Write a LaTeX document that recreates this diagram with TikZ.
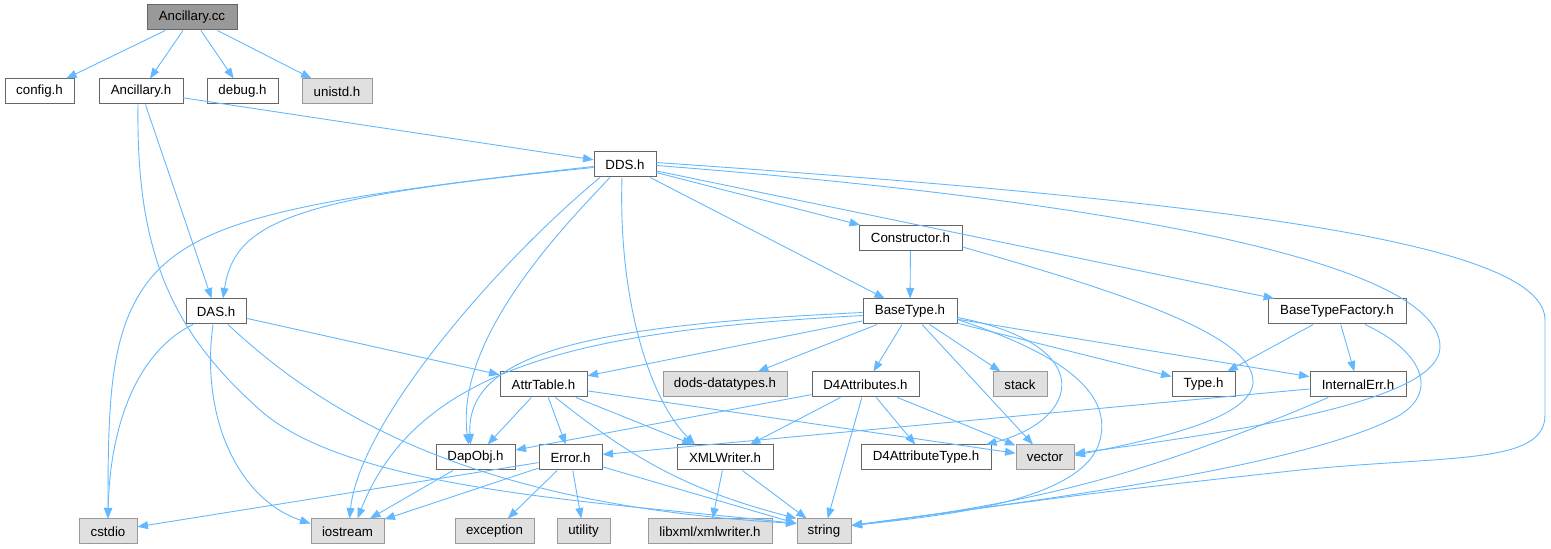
\documentclass[tikz,border=0pt]{standalone}
\usepackage{fontspec}
\setmainfont{Liberation Sans}
\usepackage{xcolor}
\usepackage{tikz}
\usetikzlibrary{arrows.meta}
\definecolor{edgeblue}{HTML}{63B8FF}
\definecolor{boxgray}{HTML}{666666}
\definecolor{sysgray}{HTML}{999999}
\definecolor{sysfill}{HTML}{E0E0E0}
\definecolor{rootfill}{HTML}{999999}

\begin{document}
\begin{tikzpicture}[x=1pt, y=1pt,
		every node/.style={draw=boxgray, fill=white, line width=1pt, inner sep=0pt, minimum height=25pt, font=\fontsize{13.3}{15}\selectfont},
		sys/.style={draw=sysgray, fill=sysfill},
		root/.style={fill=rootfill},
		dep/.style={draw=edgeblue, line width=0.9pt, -{Triangle[length=10.5pt,width=8pt]}}]
			\useasboundingbox (0,0) rectangle (1551,549);
			% Nodes
			\node[root, minimum width=90pt] (cc) at (192,531.5) {Ancillary.cc};
			\node[minimum width=69pt] (config) at (39.5,457.5) {config.h};
			\node[minimum width=84pt] (anch) at (141,457.5) {Ancillary.h};
			\node[minimum width=71pt] (debug) at (242.5,457.5) {debug.h};
			\node[sys, minimum width=70pt] (unistd) at (337,457.5) {unistd.h};
			\node[minimum width=62pt] (dds) at (625,384.5) {DDS.h};
			\node[minimum width=103pt] (cons) at (910.5,311) {Constructor.h};
			\node[minimum width=60pt] (das) at (216,237.5) {DAS.h};
			\node[minimum width=94pt] (bt) at (910,237.5) {BaseType.h};
			\node[minimum width=138pt] (btf) at (1337,237.5) {BaseTypeFactory.h};
			\node[minimum width=87pt] (attr) at (543.5,164.5) {AttrTable.h};
			\node[sys, minimum width=124pt] (dods) at (725,164.5) {dods-datatypes.h};
			\node[minimum width=107pt] (d4a) at (865.5,164.5) {D4Attributes.h};
			\node[sys, minimum width=54pt] (stack) at (1020,164.5) {stack};
			\node[minimum width=63pt] (type) at (1203.5,164.5) {Type.h};
			\node[minimum width=96pt] (ierr) at (1358,164.5) {InternalErr.h};
			\node[minimum width=79pt] (dapobj) at (475.5,91.5) {DapObj.h};
			\node[minimum width=63pt] (err) at (570.5,91.5) {Error.h};
			\node[minimum width=96pt] (xmlw) at (725,91.5) {XMLWriter.h};
			\node[minimum width=130pt] (d4at) at (926,91.5) {D4AttributeType.h};
			\node[sys, minimum width=58pt] (vector) at (1045,91.5) {vector};
			\node[sys, minimum width=58pt] (cstdio) at (108,17.5) {cstdio};
			\node[sys, minimum width=73pt] (iostream) at (347.5,17.5) {iostream};
			\node[sys, minimum width=79pt] (exc) at (494.5,17.5) {exception};
			\node[sys, minimum width=53pt] (util) at (583.5,17.5) {utility};
			\node[sys, minimum width=124pt] (libxml) at (710,17.5) {libxml/xmlwriter.h};
			\node[sys, minimum width=54pt] (string) at (824,17.5) {string};
			% Straight edges
			\draw[dep] (cc) -- (config);
			\draw[dep] (cc) -- (anch);
			\draw[dep] (cc) -- (debug);
			\draw[dep] (cc) -- (unistd);
			\draw[dep] (anch) -- (dds);
			\draw[dep] (anch) -- (das);
			\draw[dep] (dds) -- (bt);
			\draw[dep] (dds) -- (cons);
			\draw[dep] (dds) -- (btf);
			\draw[dep] (cons) -- (bt);
			\draw[dep] (btf) -- (type);
			\draw[dep] (btf) -- (ierr);
			\draw[dep] (bt) -- (attr);
			\draw[dep] (bt) -- (dods);
			\draw[dep] (bt) -- (d4a);
			\draw[dep] (bt) -- (stack);
			\draw[dep] (bt) -- (vector);
			\draw[dep] (bt) -- (type);
			\draw[dep] (bt) -- (ierr);
			\draw[dep] (das) -- (attr);
			\draw[dep] (attr) -- (dapobj);
			\draw[dep] (attr) -- (err);
			\draw[dep] (attr) -- (xmlw);
			\draw[dep] (attr) -- (vector);
			\draw[dep] (d4a) -- (dapobj);
			\draw[dep] (d4a) -- (xmlw);
			\draw[dep] (d4a) -- (string);
			\draw[dep] (d4a) -- (d4at);
			\draw[dep] (d4a) -- (vector);
			\draw[dep] (dapobj) -- (iostream);
			\draw[dep] (err) -- (cstdio);
			\draw[dep] (err) -- (iostream);
			\draw[dep] (err) -- (exc);
			\draw[dep] (err) -- (util);
			\draw[dep] (err) -- (string);
			\draw[dep] (xmlw) -- (libxml);
			\draw[dep] (xmlw) -- (string);
			\draw[dep] (ierr) -- (err);
			% Curved edges
			\draw[dep] ([yshift=-3pt]dds.west) .. controls (300,352) and (235,330) .. ([xshift=7pt]das.north);
			\draw[dep] ([yshift=-2pt]dds.west) .. controls (300,350) and (200,330) .. (150,270) .. controls (110,220) and (108,150) .. (cstdio.north);
			\draw[dep] ([xshift=-3pt]anch.south) .. controls (136,299) and (170,219) .. (260,139) .. controls (350,59) and (600,47) .. ([yshift=8pt]string.west);
			\draw[dep] ([xshift=12pt]das.south) .. controls (330,129) and (480,44) .. ([yshift=8pt]string.west);
			\draw[dep] ([xshift=-23pt]das.south) .. controls (140,199) and (110,129) .. (cstdio.north);
			\draw[dep] ([xshift=-3pt]das.south) .. controls (200,129) and (240,49) .. ([yshift=8pt]iostream.west);
			\draw[dep] ([xshift=-25pt]dds.south) .. controls (500,289) and (360,129) .. ([xshift=2pt]iostream.north);
			\draw[dep] ([xshift=-15pt]dds.south) .. controls (560,319) and (455,209) .. ([xshift=-7pt]dapobj.north);
			\draw[dep] ([xshift=-3pt]dds.south) .. controls (618,249) and (650,149) .. ([xshift=-30pt]xmlw.north);
			\draw[dep] ([yshift=-1pt]bt.west) .. controls (600,224) and (465,199) .. ([xshift=-5pt]dapobj.north);
			\draw[dep] ([yshift=-4pt]bt.west) .. controls (600,219) and (420,189) .. ([xshift=10pt]iostream.north);
			\draw[dep] ([yshift=-6pt]bt.east) .. controls (1100,204) and (1080,129) .. ([xshift=60pt]d4at.north);
			\draw[dep] ([yshift=-8pt]bt.east) .. controls (1080,189) and (1110,149) .. (1100,109) .. controls (1085,49) and (950,34) .. ([yshift=6pt]string.east);
			\draw[dep] ([yshift=-9pt]cons.east) .. controls (1150,249) and (1255,209) .. (1253,166) .. controls (1250,129) and (1150,109) .. ([yshift=2pt]vector.east);
			\draw[dep] ([yshift=-1pt]dds.east) .. controls (1100,349) and (1440,289) .. (1440,202) .. controls (1440,149) and (1250,119) .. ([yshift=4pt]vector.east);
			\draw[dep] ([yshift=2pt]dds.east) .. controls (1200,349) and (1545,309) .. (1545,229) -- (1545,134) .. controls (1545,84) and (1450,94) .. (1300,79) .. controls (1100,57) .. ([yshift=6pt]string.east);
			\draw[dep] ([xshift=28pt]btf.south) .. controls (1420,199) and (1440,159) .. (1400,134) .. controls (1300,79) and (1000,44) .. ([yshift=6pt]string.east);
			\draw[dep] (ierr) to[bend left=8] ([yshift=6pt]string.east);
			\draw[dep] ([xshift=12pt]attr.south) to[bend right=12] (string.north west);
		\end{tikzpicture}
\end{document}
